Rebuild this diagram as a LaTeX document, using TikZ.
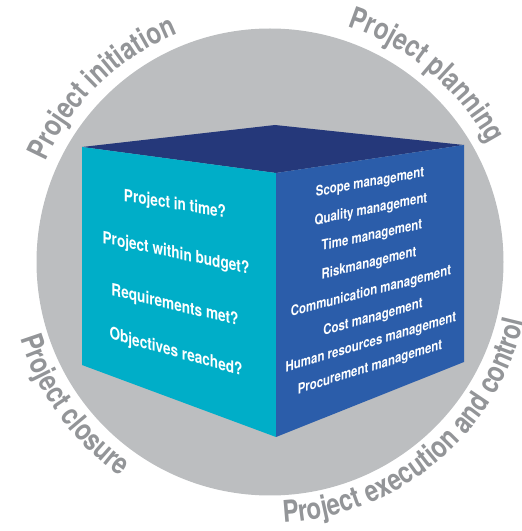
\documentclass[tikz,border=0pt]{standalone}
\usepackage{fontspec}
\usepackage{tikz}
\usetikzlibrary{decorations.text}
\newfontfamily\condfont[FakeStretch=0.8]{TeX Gyre Heros}
\definecolor{circgray}{HTML}{BCBEC0}
\definecolor{labgray}{HTML}{939598}
\definecolor{facecyan}{HTML}{00AEC8}
\definecolor{faceblue}{HTML}{2B5DAA}
\definecolor{facetop}{HTML}{25387A}
\newcommand{\labfont}{\condfont\bfseries\fontsize{30}{30}\selectfont\color{labgray}}

\begin{document}
\begin{tikzpicture}[x=1pt, y=1pt]
                    \tikzstyle{every node}=[font=\condfont\bfseries]
                    \tikzstyle{question} = [text=white, inner sep=0pt, font=\condfont\bfseries\fontsize{17}{17}\selectfont]
                    \tikzstyle{area} = [text=white, inner sep=0pt, font=\condfont\bfseries\fontsize{14.3}{14.3}\selectfont]
                    \tikzstyle{phase} = [decorate, decoration={text along path, text align=center, text format delimiters={|}{|}}]

                    \useasboundingbox (0,0) rectangle (522,531);
                    \coordinate (ctr) at (270,269);
                    \fill[circgray] (ctr) circle[radius=233.5pt];

                    \path[phase, shift={(ctr)}, decoration={text={|\labfont|Project initiation}}]
                        (174:246pt) arc[start angle=174, end angle=94, radius=246pt];
                    \path[phase, shift={(ctr)}, decoration={text={|\labfont|Project planning}}]
                        (90:248pt) arc[start angle=90, end angle=10, radius=248pt];
                    \path[phase, shift={(ctr)}, decoration={text={|\labfont|Project closure}}]
                        (176:261pt) arc[start angle=176, end angle=256, radius=261pt];
                    \path[phase, shift={(ctr)}, decoration={text={|\labfont|Project execution and control}}]
                        (250:261pt) arc[start angle=250, end angle=370, radius=261pt];

                    \coordinate (lt) at (82,384);
                    \coordinate (lb) at (82,166);
                    \coordinate (ft) at (276,358);
                    \coordinate (fb) at (276,94);
                    \coordinate (rt) at (464,386);
                    \coordinate (rb) at (464,169);
                    \coordinate (bt) at (275,406);

                    \fill[facetop] (lt) -- (bt) -- (rt) -- (ft) -- cycle;
                    \fill[facecyan] (lt) -- (ft) -- (fb) -- (lb) -- cycle;
                    \fill[faceblue] (ft) -- (rt) -- (rb) -- (fb) -- cycle;

                    \node[question, yslant=-0.16](q1) at (175,326) {Project in time?};
                    \node[question, yslant=-0.21](q2) at (176,277) {Project within budget?};
                    \node[question, yslant=-0.24](q3) at (175,225) {Requirements met?};
                    \node[question, yslant=-0.28](q4) at (176,178) {Objectives reached?};

                    \node[area, yslant=0.18](a1) at (370,348) {Scope management};
                    \node[area, yslant=0.20](a2) at (371,321) {Quality management};
                    \node[area, yslant=0.22](a3) at (372,295) {Time management};
                    \node[area, yslant=0.24](a4) at (369,267) {Riskmanagement};
                    \node[area, yslant=0.26](a5) at (371,239) {Communication management};
                    \node[area, yslant=0.28](a6) at (373,213) {Cost management};
                    \node[area, yslant=0.30](a7) at (371,188) {Human resources management};
                    \node[area, yslant=0.31](a8) at (370,163) {Procurement management};
\end{tikzpicture}
\end{document}
